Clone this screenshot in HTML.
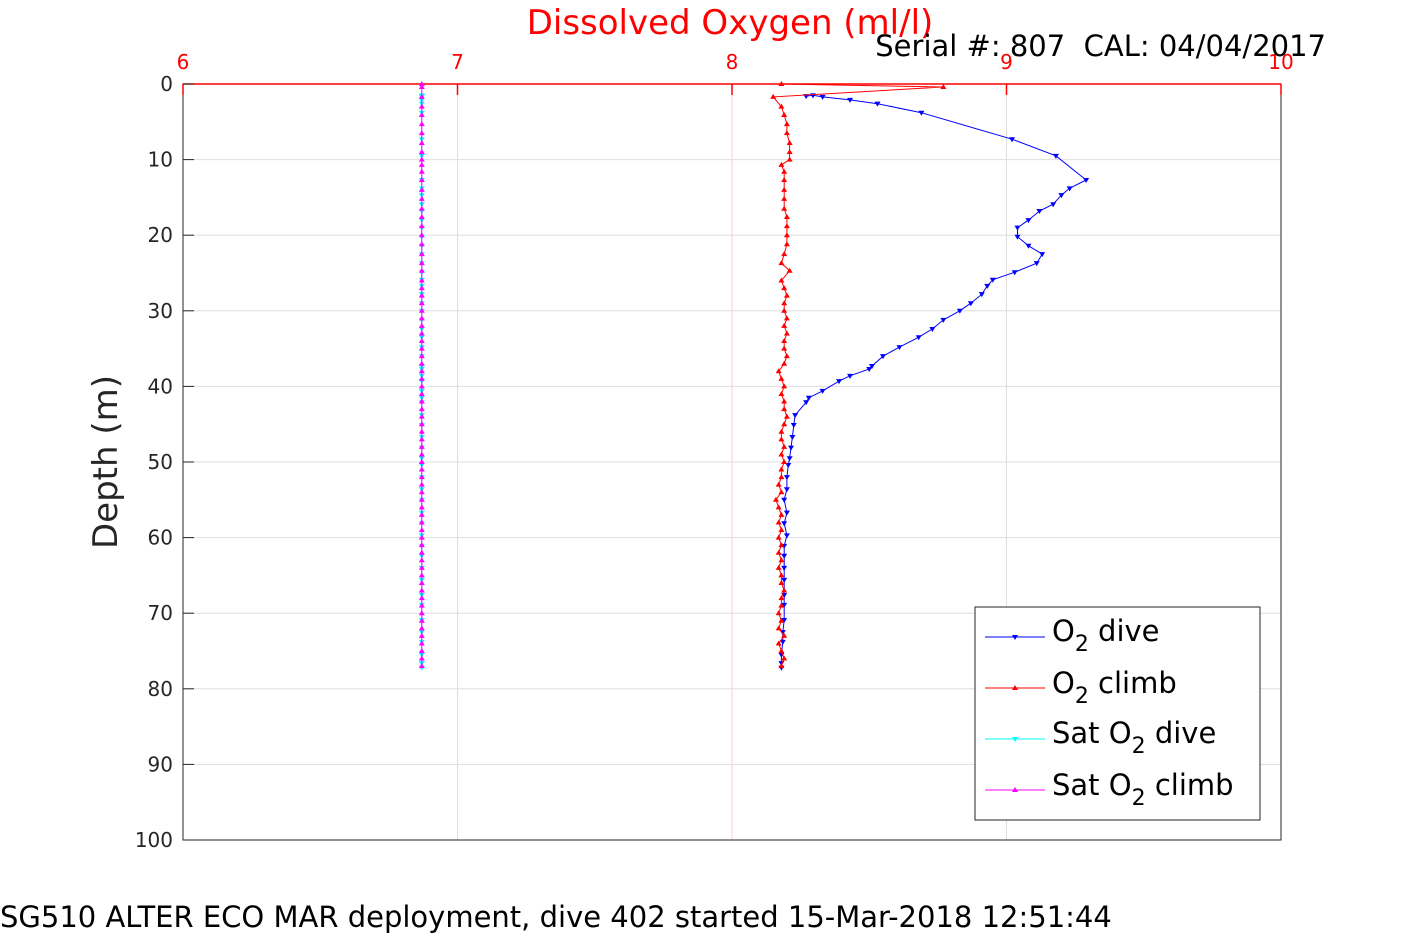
<!DOCTYPE html>
<html><head><meta charset="utf-8"><style>
body{margin:0;background:#fff;}
svg text{font-family:"DejaVu Sans","Liberation Sans",sans-serif;}
</style></head><body>
<svg width="1417" height="945" xmlns="http://www.w3.org/2000/svg">
<g id="grid"></g>
<rect x="183" y="84" width="1098" height="756" fill="none" stroke="#262626" stroke-width="1"/>
<line x1="183" y1="84" x2="1281" y2="84" stroke="#ff0000" stroke-width="1.5"/>
<g id="ticks"></g>
<g id="series"></g>
<text x="730" y="34" font-size="34" fill="#ff0000" text-anchor="middle">Dissolved Oxygen (ml/l)</text>
<text x="1326" y="56" font-size="29" fill="#000" text-anchor="end">Serial #: 807&#160;&#160;CAL: 04/04/2017</text>
<text transform="translate(117,462) rotate(-90)" font-size="34" fill="#262626" text-anchor="middle">Depth (m)</text>
<text x="0" y="927" font-size="29" fill="#000">SG510 ALTER ECO MAR deployment, dive 402 started 15-Mar-2018 12:51:44</text>
<g>
<rect x="975" y="607" width="285" height="213" fill="#fff" stroke="#262626" stroke-width="1"/>
<g><line x1="985" y1="637" x2="1045" y2="637" stroke="#0000ff"/><path d="M1012,635 l6,0 l-3,5z" fill="#0000ff"/><text x="1052" y="641" font-size="29">O<tspan font-size="22" dy="10">2</tspan><tspan dy="-10"> dive</tspan></text></g>
<g><line x1="985" y1="688" x2="1045" y2="688" stroke="#ff0000"/><path d="M1012,690 l6,0 l-3,-5z" fill="#ff0000"/><text x="1052" y="693" font-size="29">O<tspan font-size="22" dy="10">2</tspan><tspan dy="-10"> climb</tspan></text></g>
<g><line x1="985" y1="739" x2="1045" y2="739" stroke="#00ffff"/><path d="M1012,737 l6,0 l-3,5z" fill="#00ffff"/><text x="1052" y="743" font-size="29">Sat O<tspan font-size="22" dy="10">2</tspan><tspan dy="-10"> dive</tspan></text></g>
<g><line x1="985" y1="790" x2="1045" y2="790" stroke="#ff00ff"/><path d="M1012,792 l6,0 l-3,-5z" fill="#ff00ff"/><text x="1052" y="795" font-size="29">Sat O<tspan font-size="22" dy="10">2</tspan><tspan dy="-10"> climb</tspan></text></g>
</g>
</svg>
<script>
const xTicks=[6,7,8,9,10];
const yTicks=[0,10,20,30,40,50,60,70,80,90,100];
const diveDepth=[1.6,1.5,1.7,2.1,2.6,3.8,7.3,9.5,12.7,13.8,14.7,15.9,16.8,18.0,19.0,20.2,21.4,22.5,23.7,24.9,25.9,26.7,27.8,29.0,30.0,31.2,32.4,33.5,34.8,36.0,37.3,37.7,38.6,39.3,40.6,41.5,42.1,43.8,45.1,46.7,48.1,49.5,50.4,52.0,53.6,55.0,56.7,58.1,59.7,61.1,62.4,64.0,65.6,67.6,68.9,70.9,72.5,73.8,75.5,76.6,77.2];
const diveO2=[8.27,8.295,8.33,8.43,8.53,8.69,9.02,9.18,9.29,9.23,9.20,9.17,9.12,9.08,9.04,9.04,9.08,9.13,9.11,9.03,8.95,8.93,8.91,8.87,8.83,8.77,8.73,8.68,8.61,8.55,8.51,8.50,8.43,8.39,8.33,8.28,8.27,8.23,8.225,8.22,8.215,8.21,8.205,8.20,8.20,8.19,8.20,8.19,8.20,8.19,8.19,8.19,8.19,8.19,8.19,8.19,8.185,8.185,8.18,8.18,8.18];
const climbDepth=[77.0,76.0,75.0,74.0,73.0,72.0,71.0,70.0,69.0,68.0,67.0,66.0,65.0,64.0,63.0,62.0,61.0,60.0,59.0,58.0,57.0,56.0,55.0,54.0,53.0,52.0,51.0,50.0,49.0,48.0,47.0,46.0,45.0,44.0,43.0,42.0,41.0,40.0,39.0,38.0,37.0,36.0,35.0,34.0,33.0,32.0,31.0,30.0,29.0,28.0,27.0,26.0,24.7,23.7,22.5,21.2,20.0,18.8,17.6,16.5,15.2,14.0,12.7,11.6,10.7,10.0,9.0,7.8,6.5,5.3,4.1,3.0,1.7,0.4,0.0];
const climbO2=[8.18,8.19,8.18,8.17,8.19,8.17,8.18,8.17,8.18,8.18,8.19,8.18,8.18,8.17,8.18,8.17,8.18,8.17,8.18,8.17,8.18,8.17,8.16,8.18,8.17,8.18,8.18,8.19,8.18,8.19,8.18,8.18,8.19,8.20,8.19,8.19,8.18,8.19,8.18,8.17,8.19,8.20,8.19,8.19,8.20,8.19,8.20,8.19,8.19,8.20,8.19,8.18,8.21,8.18,8.19,8.20,8.20,8.20,8.20,8.19,8.19,8.19,8.19,8.19,8.18,8.21,8.21,8.21,8.20,8.20,8.19,8.18,8.15,8.77,8.18];
const satDiveO2=[6.87,6.87,6.87,6.87,6.87,6.87,6.87,6.87,6.87,6.87,6.87,6.87,6.87,6.87,6.87,6.87,6.87,6.87,6.87,6.87,6.87,6.87,6.87,6.87,6.87,6.87,6.87,6.87,6.87,6.87,6.87,6.87,6.87,6.87,6.87,6.87,6.87,6.87,6.87,6.87,6.87,6.87,6.87,6.87,6.87,6.87,6.87,6.87,6.87,6.87,6.87,6.87,6.87,6.87,6.87,6.87,6.87,6.87,6.87,6.87,6.87];
const satClimbO2=[6.87,6.87,6.87,6.87,6.87,6.87,6.87,6.87,6.87,6.87,6.87,6.87,6.87,6.87,6.87,6.87,6.87,6.87,6.87,6.87,6.87,6.87,6.87,6.87,6.87,6.87,6.87,6.87,6.87,6.87,6.87,6.87,6.87,6.87,6.87,6.87,6.87,6.87,6.87,6.87,6.87,6.87,6.87,6.87,6.87,6.87,6.87,6.87,6.87,6.87,6.87,6.87,6.87,6.87,6.87,6.87,6.87,6.87,6.87,6.87,6.87,6.87,6.87,6.87,6.87,6.87,6.87,6.87,6.87,6.87,6.87,6.87,6.87,6.87,6.87];
const NS='http://www.w3.org/2000/svg';
const X0=183,X1=1281,Y0=84,Y1=840;
const xs=v=>X0+(v-6)/4*(X1-X0);
const ys=d=>Y0+d/100*(Y1-Y0);
function mk(tag,attrs,parent){const e=document.createElementNS(NS,tag);for(const k in attrs)e.setAttribute(k,attrs[k]);parent.appendChild(e);return e;}
const grid=document.getElementById('grid'),ticks=document.getElementById('ticks'),series=document.getElementById('series');
xTicks.forEach(t=>{
  const x=xs(t);
  if(t>6&&t<10){const g=mk('line',{x1:x,y1:Y0,x2:x,y2:Y1,stroke:t===8?'#f7d0d0':'#dedede','stroke-width':1},grid);
  
  }
  const tk=mk('line',{x1:x,y1:Y0,x2:x,y2:Y0+11,stroke:'#ff0000','stroke-width':1.5},ticks);
  
  
  const lb=mk('text',{x:x,y:Y0-15,'font-size':20,fill:'#ff0000','text-anchor':'middle'},ticks);
  lb.textContent=t;
  
  
});
yTicks.forEach(t=>{
  const y=ys(t);
  if(t>0&&t<100){const g=mk('line',{x1:X0,y1:y,x2:X1,y2:y,stroke:'#dedede','stroke-width':1},grid);
  
  }
  const tk=mk('line',{x1:X0,y1:y,x2:X0+11,y2:y,stroke:'#262626','stroke-width':1},ticks);
  
  
  const lb=mk('text',{x:X0-10,y:y+7,'font-size':20,fill:'#262626','text-anchor':'end'},ticks);
  lb.textContent=t;
  
  
});
function drawSeries(vals,depths,color,down,name){
  const g=mk('g',{},series);
  
  
  const pts=vals.map((v,i)=>xs(v).toFixed(1)+','+ys(depths[i]).toFixed(1)).join(' ');
  const pl=mk('polyline',{points:pts,fill:'none',stroke:color,'stroke-width':1},g);
  
  
  vals.forEach((v,i)=>{
    const x=xs(v),y=ys(depths[i]);
    const d=down?`M${x-3},${y-2} L${x+3},${y-2} L${x},${y+3}Z`:`M${x-3},${y+2} L${x+3},${y+2} L${x},${y-3}Z`;
    const m=mk('path',{d:d,fill:color},g);
    
    
  });
}
drawSeries(satDiveO2,diveDepth,'#00ffff',true,'sat-o2-dive');
drawSeries(satClimbO2,climbDepth,'#ff00ff',false,'sat-o2-climb');
drawSeries(diveO2,diveDepth,'#0000ff',true,'o2-dive');
drawSeries(climbO2,climbDepth,'#ff0000',false,'o2-climb');
</script>
</body></html>
